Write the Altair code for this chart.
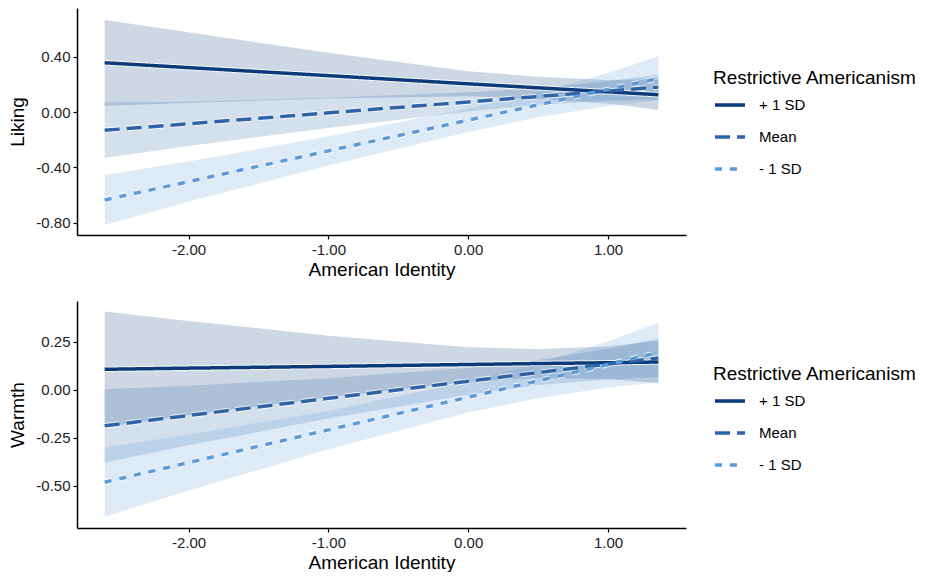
import altair as alt
import pandas as pd

# ---- data ----
x_vals = [-2.6, -2.0, -1.0, 0.0, 0.5, 1.0, 1.36]
groups = ["+ 1 SD", "Mean", "- 1 SD"]
line_colors = ["#0B3B78", "#2E64A6", "#5A9BD8"]
dash_patterns = [[1, 0], [15, 7], [7, 8]]

# Liking
liking_plus_fit = [0.356, 0.321, 0.263, 0.204, 0.175, 0.146, 0.125]
liking_plus_lo = [0.046, 0.066, 0.098, 0.114, 0.095, 0.061, 0.015]
liking_plus_hi = [0.666, 0.576, 0.428, 0.294, 0.255, 0.231, 0.235]
liking_mean_fit = [-0.132, -0.085, -0.006, 0.073, 0.112, 0.152, 0.180]
liking_mean_lo = [-0.332, -0.245, -0.116, 0.003, 0.052, 0.082, 0.090]
liking_mean_hi = [0.068, 0.075, 0.104, 0.143, 0.172, 0.222, 0.270]
liking_minus_fit = [-0.636, -0.503, -0.281, -0.059, 0.052, 0.163, 0.243]
liking_minus_lo = [-0.816, -0.648, -0.386, -0.144, -0.038, 0.043, 0.083]
liking_minus_hi = [-0.456, -0.358, -0.176, 0.026, 0.142, 0.283, 0.403]

# Warmth
warmth_plus_fit = [0.106, 0.112, 0.121, 0.131, 0.136, 0.140, 0.144]
warmth_plus_lo = [-0.194, -0.133, -0.039, 0.041, 0.061, 0.055, 0.034]
warmth_plus_hi = [0.406, 0.357, 0.281, 0.221, 0.211, 0.225, 0.254]
warmth_mean_fit = [-0.188, -0.134, -0.045, 0.044, 0.089, 0.133, 0.165]
warmth_mean_lo = [-0.378, -0.289, -0.150, -0.026, 0.024, 0.053, 0.065]
warmth_mean_hi = [0.002, 0.021, 0.060, 0.114, 0.154, 0.213, 0.265]
warmth_minus_fit = [-0.481, -0.379, -0.209, -0.039, 0.046, 0.131, 0.193]
warmth_minus_lo = [-0.661, -0.524, -0.309, -0.119, -0.044, 0.011, 0.038]
warmth_minus_hi = [-0.301, -0.234, -0.109, 0.041, 0.136, 0.251, 0.348]

liking_ticks = [-0.8, -0.4, 0.0, 0.4]
warmth_ticks = [-0.5, -0.25, 0.0, 0.25]
x_ticks = [-2, -1, 0, 1]

FONT = "Liberation Sans"
LABEL_EXPR = "replace(format(datum.value, '.2f'), '\u2212', '-')"


def make_df(fits, los, his):
    rows = []
    for g, f, lo, hi in zip(groups, fits, los, his):
        for i, x in enumerate(x_vals):
            rows.append({"x": x, "group": g, "fit": f[i], "lo": lo[i], "hi": hi[i]})
    return pd.DataFrame(rows)


liking_df = make_df(
    [liking_plus_fit, liking_mean_fit, liking_minus_fit],
    [liking_plus_lo, liking_mean_lo, liking_minus_lo],
    [liking_plus_hi, liking_mean_hi, liking_minus_hi],
)
warmth_df = make_df(
    [warmth_plus_fit, warmth_mean_fit, warmth_minus_fit],
    [warmth_plus_lo, warmth_mean_lo, warmth_minus_lo],
    [warmth_plus_hi, warmth_mean_hi, warmth_minus_hi],
)


def panel(df, ytitle, ydomain, yticks, legend_y):
    xenc = alt.X(
        "x:Q",
        scale=alt.Scale(domain=[-2.798, 1.558], nice=False, zero=False),
        axis=alt.Axis(values=x_ticks, labelExpr=LABEL_EXPR, title="American Identity"),
    )
    yscale = alt.Scale(domain=ydomain, nice=False, zero=False)
    yaxis = alt.Axis(values=yticks, labelExpr=LABEL_EXPR, title=ytitle)

    bands = []
    for g, c in zip(groups, line_colors):
        bands.append(
            alt.Chart(df)
            .transform_filter(alt.datum.group == g)
            .mark_area(color=c, opacity=0.2)
            .encode(x=xenc, y=alt.Y("lo:Q", scale=yscale, axis=yaxis), y2="hi:Q")
        )

    halos = []
    for g, d in zip(groups, dash_patterns):
        halos.append(
            alt.Chart(df)
            .transform_filter(alt.datum.group == g)
            .mark_line(color="white", strokeWidth=5.5, strokeDash=d, opacity=0.8)
            .encode(x=xenc, y=alt.Y("fit:Q", scale=yscale, axis=yaxis))
        )

    leg = alt.Legend(orient="none", legendX=636, legendY=legend_y)

    lines = alt.Chart(df).mark_line(strokeWidth=3.5).encode(
        x=xenc,
        y=alt.Y("fit:Q", scale=yscale, axis=yaxis),
        color=alt.Color(
            "group:N",
            scale=alt.Scale(domain=groups, range=line_colors),
            title="Restrictive Americanism",
            legend=leg,
        ),
        strokeDash=alt.StrokeDash(
            "group:N",
            scale=alt.Scale(domain=groups, range=dash_patterns),
            title="Restrictive Americanism",
            legend=leg,
        ),
    )

    return alt.layer(*bands, *halos, lines).properties(width=609, height=227)


top = panel(liking_df, "Liking", [-0.889, 0.752], liking_ticks, 61)
bottom = panel(warmth_df, "Warmth", [-0.719, 0.461], warmth_ticks, 64)

chart = (
    alt.vconcat(top, bottom, spacing=22)
    .resolve_scale(color="independent", strokeDash="independent")
    .configure(font=FONT, padding=0)
    .configure_view(stroke=None)
    .configure_axis(
        grid=False,
        domainColor="black",
        domainWidth=1.5,
        tickColor="black",
        tickWidth=1.2,
        tickSize=4,
        labelPadding=3,
        labelFont=FONT,
        labelFontSize=15,
        labelColor="#222222",
        titleFont=FONT,
        titleFontSize=19,
        titleFontWeight="normal",
        titleColor="black",
    )
    .configure_axisX(titlePadding=3)
    .configure_axisY(titlePadding=8)
    .configure_legend(
        titleFont=FONT,
        titleFontSize=19,
        titleFontWeight="normal",
        titleColor="black",
        titlePadding=0,
        titleLimit=400,
        labelFont=FONT,
        labelFontSize=15,
        labelColor="black",
        labelOffset=12,
        symbolType="stroke",
        symbolSize=900,
        symbolStrokeWidth=3.5,
        rowPadding=7,
    )
)

chart.save("out.html", embed_options={"renderer": "svg", "actions": False})
